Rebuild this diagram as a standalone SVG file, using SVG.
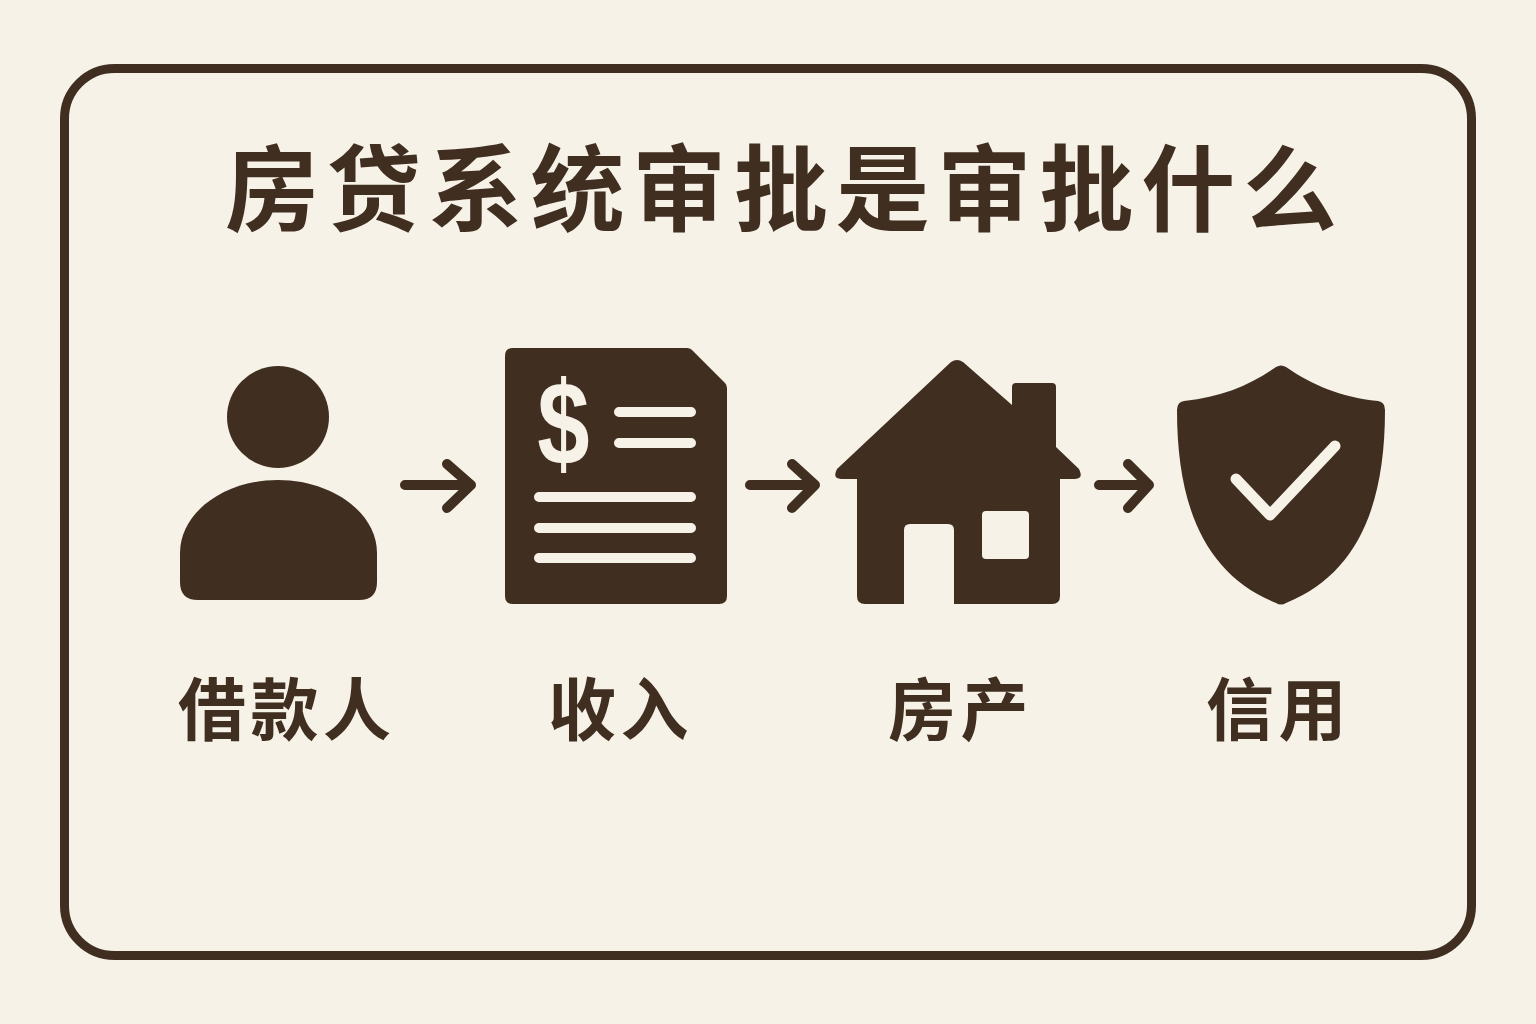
<svg xmlns="http://www.w3.org/2000/svg" width="1536" height="1024" viewBox="0 0 1536 1024">
<style>
.t{font-family:"Noto Sans CJK SC","Liberation Sans",sans-serif;font-weight:700;fill:#402f20}
.h{font-size:94px;letter-spacing:7.8px}
.n{font-size:68px;letter-spacing:4.5px}
.i{fill:#402f20}
.c{fill:none;stroke:#402f20;stroke-width:10;stroke-linecap:round;stroke-linejoin:round}
.l{stroke:#f6f2e7;stroke-width:10;stroke-linecap:round;fill:none}
</style>
<rect width="1536" height="1024" fill="#f6f2e7"/>
<rect x="64.5" y="68.5" width="1407" height="887" rx="50" fill="none" stroke="#402f20" stroke-width="9"/>
<text class="t h" x="225" y="224">房贷系统审批是审批什么</text>
<g id="node-borrower">
<circle class="i" cx="278" cy="417" r="51"/>
<path class="i" d="M180 553C180 512 225 480 278 480C331 480 377 512 377 553V582Q377 600 359 600H198Q180 600 180 582Z"/>
<text class="t n" x="178" y="735">借款人</text>
</g>
<g id="node-income">
<path class="i" d="M513 348H687Q690 348 692 350L725 383Q727 385 727 388V596Q727 604 719 604H513Q505 604 505 596V356Q505 348 513 348Z"/>
<text transform="translate(563.5 463.5) scale(.94 1.18)" font-family="Liberation Sans,sans-serif" font-weight="700" font-size="100" fill="#f6f2e7" text-anchor="middle">$</text>
<path class="l" d="M619 412H691M619 443H691M539 497H691M539 528H691M539 558H691"/>
<text class="t n" x="548" y="735">收入</text>
</g>
<g id="node-property">
<path class="i" d="M951 362Q957 358 963 362L1012 405V387Q1012 383 1016 383H1052Q1056 383 1056 387V447L1079 469Q1084 479 1075 479H1060V596Q1060 604 1052 604H954V530Q954 524 948 524H910Q904 524 904 530V604H865Q857 604 857 596V479H841Q832 479 837 469Z"/>
<rect x="982" y="511" width="47" height="48" rx="4" fill="#f6f2e7"/>
<text class="t n" x="888" y="735">房产</text>
</g>
<g id="node-credit">
<path class="i" d="M1276 367Q1281 364 1286 367C1312 385 1340 397 1378 401Q1385 402 1385 410C1385 510 1355 575 1286 603Q1281 606 1276 603C1207 575 1177 510 1177 410Q1177 402 1184 401C1222 397 1250 385 1276 367Z"/>
<path d="M1236 479L1270 515L1335 446" fill="none" stroke="#f6f2e7" stroke-width="11" stroke-linecap="round" stroke-linejoin="round"/>
<text class="t n" x="1206" y="735">信用</text>
</g>
<g id="connectors">
<path class="c" d="M405 485H471M447 464L471 485L447 508"/>
<path class="c" d="M750 485H815M792 464L815 485L792 508"/>
<path class="c" d="M1099 485H1149M1128 464L1149 485L1128 508"/>
</g>
</svg>
